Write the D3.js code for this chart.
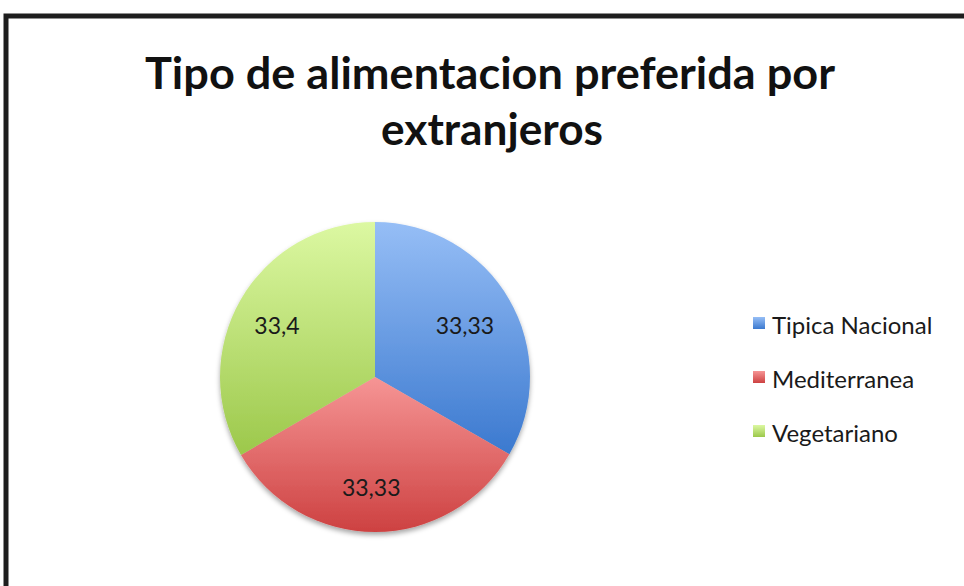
<!DOCTYPE html>
<html>
<head>
<meta charset="utf-8">
<script src="https://cdn.jsdelivr.net/npm/d3@7"></script>
<style>
  html, body { margin: 0; padding: 0; background: #fff; }
  svg { display: block; }
</style>
</head>
<body>
<svg id="chart" width="964" height="586"></svg>
<script>
// Preferred food type among foreigners (percent)
const categories = ["Tipica Nacional", "Mediterranea", "Vegetariano"];
const values = [33.33, 33.33, 33.4];
const valueLabels = ["33,33", "33,33", "33,4"];
const titleLines = ["Tipo de alimentacion preferida por", "extranjeros"];

// light (top) and dark (bottom) stops of each slice gradient
const lightColors = ["#96bef6", "#f69595", "#dcf8a2"];
const darkColors = ["#3b79cf", "#cd4141", "#9cc84b"];

const svg = d3.select("#chart");
const W = 964, H = 586;

svg.append("rect").attr("width", W).attr("height", H).attr("fill", "#fff");

const defs = svg.append("defs");
categories.forEach((c, i) => {
  const g = defs.append("linearGradient")
    .attr("id", "grad" + i)
    .attr("x1", 0).attr("y1", 0).attr("x2", 0).attr("y2", 1);
  g.append("stop").attr("offset", "0%").attr("stop-color", lightColors[i]);
  g.append("stop").attr("offset", "100%").attr("stop-color", darkColors[i]);
});
const shadow = defs.append("filter").attr("id", "pieShadow")
  .attr("x", "-20%").attr("y", "-20%").attr("width", "140%").attr("height", "140%");
shadow.append("feDropShadow")
  .attr("dx", 0).attr("dy", 3).attr("stdDeviation", 2.5)
  .attr("flood-color", "#000").attr("flood-opacity", 0.35);

// chart frame: only its top and left edges fall inside the page
svg.append("path")
  .attr("d", `M6,${H} V16 H${W}`)
  .attr("fill", "none").attr("stroke", "#1e1e1e").attr("stroke-width", 5);

// title
const title = svg.append("text")
  .attr("text-anchor", "middle")
  .attr("font-family", "Lato, 'Open Sans', sans-serif")
  .attr("font-weight", "bold")
  .attr("font-size", 43)
  .attr("fill", "#111");
title.append("tspan").attr("x", 490).attr("y", 89)
  .attr("textLength", 690).attr("lengthAdjust", "spacingAndGlyphs")
  .text(titleLines[0]);
title.append("tspan").attr("x", 492).attr("y", 145)
  .attr("textLength", 222).attr("lengthAdjust", "spacingAndGlyphs")
  .text(titleLines[1]);

// pie
const cx = 375, cy = 377, R = 155;
const pie = d3.pie().sort(null).value(d => d)(values);
const arc = d3.arc().innerRadius(0).outerRadius(R);
const labelArc = d3.arc().innerRadius(R * 0.7).outerRadius(R * 0.7);

const g = svg.append("g").attr("transform", `translate(${cx},${cy})`);
g.append("g").attr("filter", "url(#pieShadow)")
  .selectAll("path").data(pie).join("path")
  .attr("d", arc)
  .attr("fill", (d, i) => `url(#grad${i})`);

g.selectAll("text.val").data(pie).join("text")
  .attr("class", "val")
  .attr("transform", d => {
    const [x, y] = labelArc.centroid(d);
    return `translate(${x - 4},${y + 2})`;
  })
  .attr("text-anchor", "middle")
  .attr("dominant-baseline", "central")
  .attr("font-family", "Lato, 'Open Sans', sans-serif")
  .attr("font-size", 23)
  .attr("fill", "#1a1a1a")
  .text((d, i) => valueLabels[i]);

// legend
const legend = svg.append("g").attr("transform", "translate(753,317)");
const items = legend.selectAll("g").data(categories).join("g")
  .attr("transform", (d, i) => `translate(0,${i * 54})`);
items.append("rect")
  .attr("width", 12).attr("height", 12)
  .attr("fill", (d, i) => `url(#grad${i})`);
items.append("text")
  .attr("x", 19).attr("y", 7)
  .attr("dominant-baseline", "central")
  .attr("font-family", "Lato, 'Open Sans', sans-serif")
  .attr("font-size", 24)
  .attr("fill", "#1a1a1a")
  .text(d => d);
</script>
</body>
</html>
